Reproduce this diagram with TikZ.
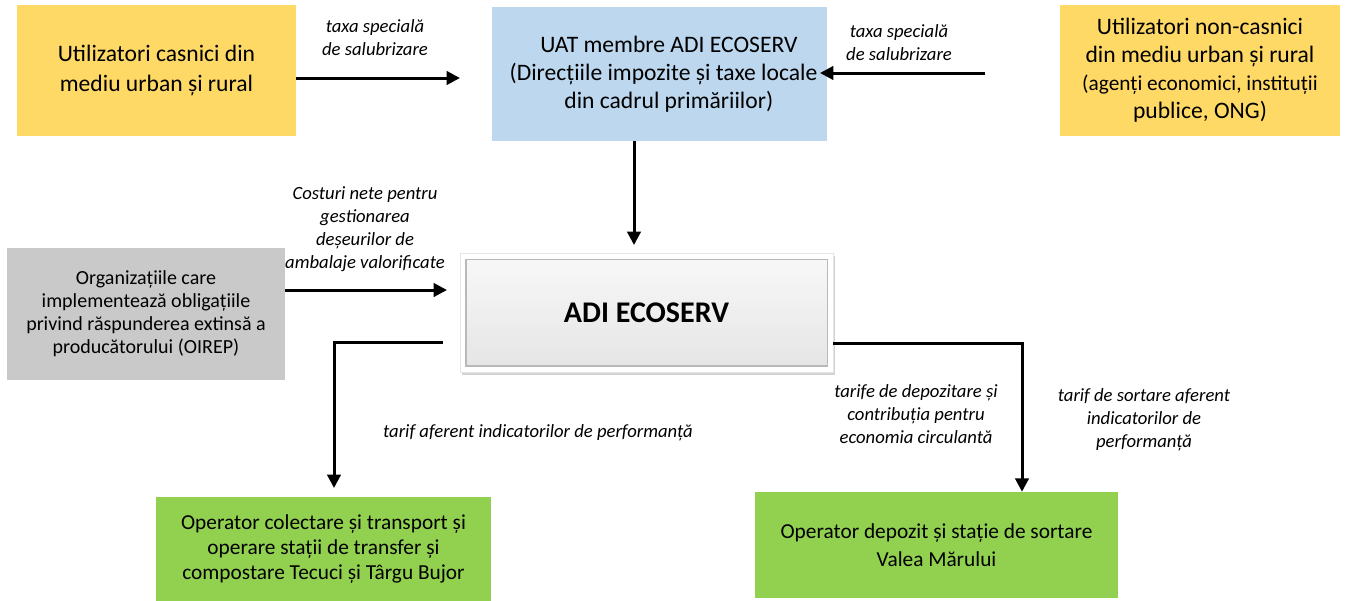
\documentclass[tikz,border=0pt]{standalone}
\usepackage{fontspec}
\setmainfont{Carlito}
\usetikzlibrary{arrows.meta,shadows}
\definecolor{boxyellow}{RGB}{255,217,102}
\definecolor{boxblue}{RGB}{189,215,238}
\definecolor{boxgrey}{RGB}{201,201,201}
\definecolor{boxgreen}{RGB}{146,208,80}

\begin{document}
\begin{tikzpicture}[x=0.75pt,y=0.75pt,yscale=-1,
    box/.style={inner sep=2pt, align=center, font=\fontsize{17.7}{22.5}\selectfont},
    flow/.style={line width=2.25pt, -{Triangle[length=10pt,width=10pt]}},
    lbl/.style={inner sep=0.75pt, align=center, font=\itshape\fontsize{14}{17.3}\selectfont}]
    \useasboundingbox (0,0) rectangle (1352,600);

    %Shape: Rectangle [id:casnic]
    \node [box, fill=boxyellow, minimum width=209.25pt, minimum height=98.25pt] (casnic) at (156.5,70.5) {Utilizatori casnici din\\ mediu urban și rural};
    %Shape: Rectangle [id:uat]
    \node [box, fill=boxblue, minimum width=251.25pt, minimum height=100.5pt, font=\fontsize{17.7}{21}\selectfont] (uat) at (659.5,74) {\hspace*{14pt}UAT membre ADI ECOSERV\\ \hspace*{6pt}(Direcțiile impozite și taxe locale\\ \hspace*{14pt}din cadrul primăriilor)};
    %Shape: Rectangle [id:noncasnic]
    \node [box, fill=boxyellow, minimum width=210pt, minimum height=98.25pt, font=\fontsize{17.7}{21}\selectfont] (noncasnic) at (1200,70.5) {Utilizatori non-casnici\\ din mediu urban și rural\\ \fontsize{16}{20.3}\selectfont (agenți economici, instituții\\ publice, ONG)};
    %Shape: Rectangle [id:oirep]
    \node [box, fill=boxgrey, minimum width=208.5pt, minimum height=99pt, font=\fontsize{15}{17.3}\selectfont] (oirep) at (146,314) {Organizațiile care\\ implementează obligațiile\\ privind răspunderea extinsă a\\ producătorului (OIREP)};
    %Shape: Rectangle [id:adi]
    \node [fill=white, draw=gray!20, minimum width=279.75pt, minimum height=89.25pt, drop shadow={shadow xshift=1.5pt, shadow yshift=-2pt, opacity=0.35}] (adi) at (646.5,312.5) {};
    \node [top color=gray!6, bottom color=gray!20, draw=gray!55, line width=1pt, minimum width=271pt, minimum height=80pt, font=\bfseries\fontsize{22.5}{27}\selectfont] (adiin) at (adi.center) {ADI ECOSERV};
    %Shape: Rectangle [id:colect]
    \node [box, fill=boxgreen, minimum width=251.25pt, minimum height=78pt, font=\fontsize{16}{18.8}\selectfont] (colect) at (323.5,549) {Operator colectare și transport și\\ operare stații de transfer și\\ compostare Tecuci și Târgu Bujor};
    %Shape: Rectangle [id:depozit]
    \node [box, fill=boxgreen, minimum width=272.25pt, minimum height=79.5pt, font=\fontsize{16}{20.5}\selectfont] (depozit) at (936.5,545) {Operator depozit și stație de sortare\\ Valea Mărului};

    %Straight Lines
    \coordinate (a1) at (460,78);
    \draw [flow] (casnic.east |- a1) -- (a1);
    \coordinate (a2) at (985,73);
    \coordinate (a2e) at (820,73);
    \draw [flow] (a2) -- (a2e);
    \coordinate (a3) at (634,245);
    \draw [flow] (uat.south -| a3) -- (a3);
    \coordinate (a4) at (447,290);
    \draw [flow] (oirep.east |- a4) -- (a4);
    \coordinate (b1) at (443,342);
    \coordinate (b2) at (334,488);
    \draw [flow] (b1) -| (b2);
    \coordinate (c1) at (1022,343);
    \draw [flow] (adi.east |- c1) -- (c1) -- (depozit.north -| c1);

    % Text Node
    \node [lbl] (tax1) at (375,38) {taxa specială\\ de salubrizare};
    % Text Node
    \node [lbl] (tax2) at (899,43) {taxa specială\\ de salubrizare};
    % Text Node
    \node [lbl] (cost) at (365,229) {Costuri nete pentru\\ gestionarea\\ deșeurilor de\\ ambalaje valorificate};
    % Text Node
    \node [lbl] (tarif) at (538,433) {tarif aferent indicatorilor de performanță};
    % Text Node
    \node [lbl] (tarife) at (916,414) {tarife de depozitare și\\ contribuția pentru\\ economia circulantă};
    % Text Node
    \node [lbl] (sortare) at (1144,420) {tarif de sortare aferent\\ indicatorilor de\\ performanță};

\end{tikzpicture}
\end{document}
